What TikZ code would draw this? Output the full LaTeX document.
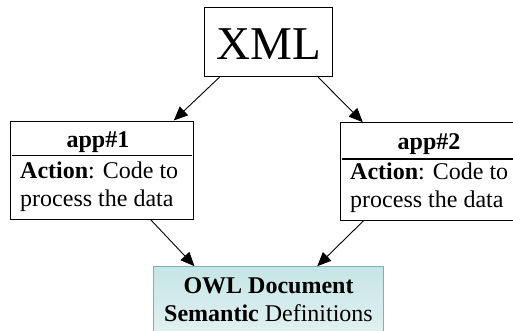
\documentclass[tikz,border=0pt]{standalone}
\usepackage{fontspec}
\setmainfont{Liberation Serif}
\usetikzlibrary{arrows.meta,calc}
\definecolor{owltop}{HTML}{C6E5E5}
\definecolor{owlbot}{HTML}{E6F3F3}
\definecolor{owledge}{HTML}{7FAFAF}
\tikzset{
  box/.style={draw=black,line width=1pt,inner sep=0pt,fill=white},
  txt/.style={inner sep=0pt,anchor=base,font=\fontsize{24}{28}\selectfont},
  sepline/.style={line width=1.8pt},
  conn/.style={line width=0.9pt,-{Triangle[length=14pt,width=12pt]}},
}
\begin{document}
\begin{tikzpicture}[x=1pt,y=-1pt]
\useasboundingbox (0,0) rectangle (513,330);
\begin{scope}
\clip (0,0) rectangle (513,330);
% XML
\node[box,minimum width=128.4pt,minimum height=69.4pt] (xml) at (268.5,42) {};
\node[inner sep=0pt,anchor=base,font=\fontsize{47}{50}\selectfont] (xmlt) at (268.5,59) {XML};
% app1
\node[box,minimum width=183pt,minimum height=98pt] (app1) at (101.5,170) {};
\node[txt] (app1t) at (98,147.5) {\textbf{app\#1}};
\draw[sepline] ($(app1.west)+(2,-14.5)$) coordinate (s1a) -- ($(app1.east)+(-2,-14.5)$) coordinate (s1b);
\node[txt,anchor=base west] (app1a) at (20,178) {\textbf{Action}: Code to};
\node[txt,anchor=base west] (app1b) at (20,206) {process the data};
% app2
\node[box,minimum width=177.3pt,minimum height=97.3pt] (app2) at (429.35,171.35) {};
\node[txt] (app2t) at (429,149.5) {\textbf{app\#2}};
\draw[sepline] ($(app2.west)+(2,-12.4)$) coordinate (s2a) -- ($(app2.east)+(0,-12.4)$) coordinate (s2b);
\node[txt,anchor=base west] (app2a) at (350,179) {\textbf{Action}: Code to};
\node[txt,anchor=base west] (app2b) at (350,207) {process the data};
% OWL
\node[draw=owledge,line width=1pt,inner sep=0pt,top color=owltop,bottom color=owlbot,
      minimum width=229.6pt,minimum height=80pt] (owl) at (268.5,306.7) {};
\node[txt] (owl1) at (268.5,293) {\textbf{OWL Document}};
\node[txt] (owl2) at (268.5,321.5) {\textbf{Semantic} Definitions};
% connectors
\draw[conn] ([xshift=15.7pt]xml.south west) -- ([xshift=-19.7pt]app1.north east);
\draw[conn] ([xshift=-15pt]xml.south east) -- ([xshift=22.6pt]app2.north west);
\draw[conn] ([xshift=-43pt]app1.south east) -- ([xshift=41.3pt]owl.north west);
\draw[conn] ([xshift=23.6pt]app2.south west) -- ([xshift=-66.6pt]owl.north east);
\end{scope}
\end{tikzpicture}
\end{document}
